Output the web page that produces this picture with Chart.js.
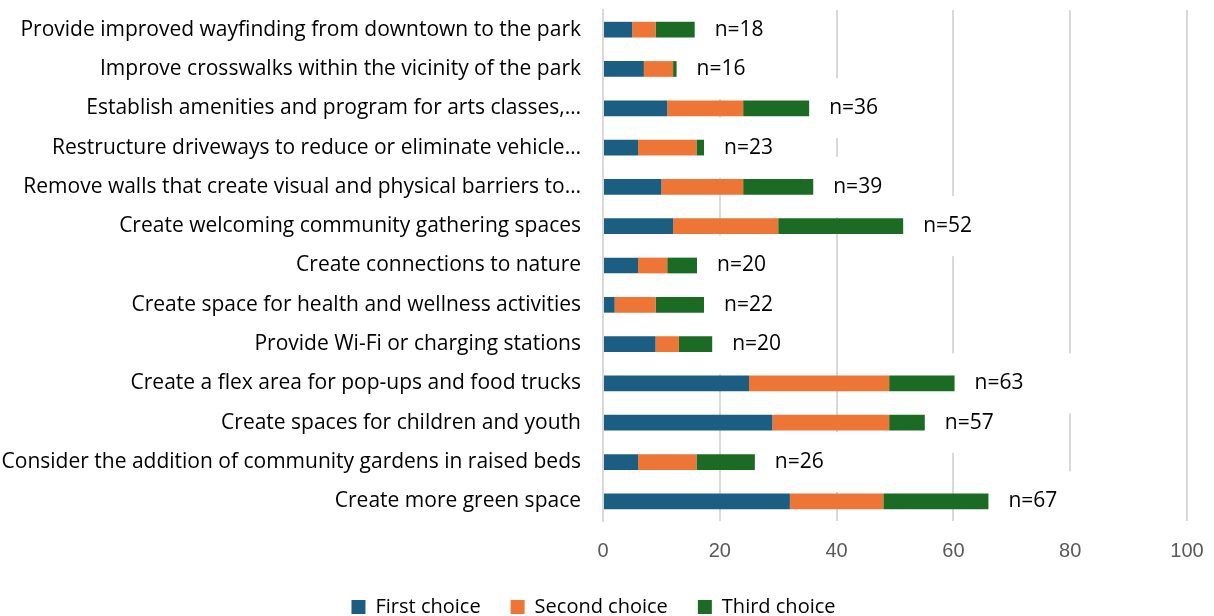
<!DOCTYPE html>
<html>
<head>
<meta charset="utf-8">
<script src="https://cdn.jsdelivr.net/npm/chart.js@4"></script>
<style>
  html, body { margin: 0; padding: 0; background: #fff; }
  #wrap { width: 1214px; height: 616px; }
</style>
</head>
<body>
<div id="wrap"><canvas id="prioChart"></canvas></div>
<script>
const categories = [
    'Provide improved wayfinding from downtown to the park',
    'Improve crosswalks within the vicinity of the park',
    'Establish amenities and program for arts classes,…',
    'Restructure driveways to reduce or eliminate vehicle…',
    'Remove walls that create visual and physical barriers to…',
    'Create welcoming community gathering spaces',
    'Create connections to nature',
    'Create space for health and wellness activities',
    'Provide Wi-Fi or charging stations',
    'Create a flex area for pop-ups and food trucks',
    'Create spaces for children and youth',
    'Consider the addition of community gardens in raised beds',
    'Create more green space'
];
const firstChoice  = [5, 7, 11, 6, 10, 12, 6, 2, 9, 25, 29, 6, 32];
const secondChoice = [4, 5, 13, 10, 14, 18, 5, 7, 4, 24, 20, 10, 16];
const thirdChoice  = [6.7, 0.6, 11.3, 1.3, 12, 21.4, 5.1, 8.3, 5.7, 11.2, 6.1, 10, 18];
const respondents  = [18, 16, 36, 23, 39, 52, 20, 22, 20, 63, 57, 26, 67];
const xTicks = [0, 20, 40, 60, 80, 100];

const textFamily = "'Open Sans', 'Noto Sans', sans-serif";
const textSize = 21;

// n= labels to the right of each stacked bar; white box behind them hides the grid like the original
const nLabels = {
    id: 'nLabels',
    beforeLayout(chart) {
        // keep the wide gap between legend items without the tall legend box
        const lg = chart.legend;
        if (lg && !lg._shortFit) {
            const baseFit = Object.getPrototypeOf(lg).fit;
            lg.fit = function () {
                baseFit.call(this);
                this.height = 49;
            };
            lg._shortFit = true;
        }
    },
    beforeDatasetsDraw(chart) {
        const ctx = chart.ctx, x = chart.scales.x, y = chart.scales.y;
        ctx.save();
        ctx.fillStyle = '#fff';
        respondents.forEach((n, i) => {
            const end = x.getPixelForValue(firstChoice[i] + secondChoice[i] + thirdChoice[i]);
            const cy = y.getPixelForValue(i);
            ctx.fillRect(end - 5, cy - 30, 125, 60);
        });
        ctx.restore();
    },
    afterDatasetsDraw(chart) {
        const ctx = chart.ctx, x = chart.scales.x, y = chart.scales.y;
        ctx.save();
        ctx.font = textSize + 'px ' + textFamily;
        ctx.fillStyle = '#000';
        ctx.textAlign = 'left';
        ctx.textBaseline = 'middle';
        respondents.forEach((n, i) => {
            const end = x.getPixelForValue(firstChoice[i] + secondChoice[i] + thirdChoice[i]);
            ctx.fillText('n=' + n, end + 20, y.getPixelForValue(i));
        });
        ctx.restore();
    }
};

new Chart(document.getElementById('prioChart'), {
    type: 'bar',
    data: {
        labels: categories,
        datasets: [
            { label: 'First choice', data: firstChoice, backgroundColor: '#1B5E82' },
            { label: 'Second choice', data: secondChoice, backgroundColor: '#ED7535' },
            { label: 'Third choice', data: thirdChoice, backgroundColor: '#1C6B24' }
        ]
    },
    options: {
        indexAxis: 'y',
        responsive: true,
        maintainAspectRatio: false,
        animation: false,
        datasets: {
            bar: { categoryPercentage: 1, barPercentage: 0.4 }
        },
        layout: { padding: { top: 10, right: 27, bottom: 0, left: 0 } },
        scales: {
            x: {
                stacked: true,
                min: 0,
                max: 100,
                afterBuildTicks(scale) {
                    scale.ticks = xTicks.map(v => ({ value: v }));
                },
                afterFit(scale) {
                    scale.height = 46;
                    scale.paddingLeft = 0;
                    scale.paddingRight = 0;
                },
                grid: { color: '#D9D9D9', lineWidth: 2, drawTicks: false },
                border: { display: false },
                ticks: {
                    padding: 18,
                    color: '#595959',
                    font: { family: "'Liberation Sans', Arial, sans-serif", size: 20 }
                }
            },
            y: {
                stacked: true,
                grid: { display: false, drawTicks: false },
                border: { color: '#D9D9D9', width: 2 },
                afterFit(scale) {
                    scale.width = 603;
                    scale.paddingTop = 0;
                    scale.paddingBottom = 0;
                },
                ticks: {
                    padding: 22,
                    color: '#000',
                    autoSkip: false,
                    font: { family: textFamily, size: textSize }
                }
            }
        },
        plugins: {
            tooltip: { enabled: false },
            legend: {
                position: 'bottom',
                labels: {
                    boxWidth: 14,
                    boxHeight: 14,
                    padding: 30,
                    color: '#000',
                    font: { family: textFamily, size: 20 }
                }
            }
        }
    },
    plugins: [nLabels]
});
</script>
</body>
</html>
